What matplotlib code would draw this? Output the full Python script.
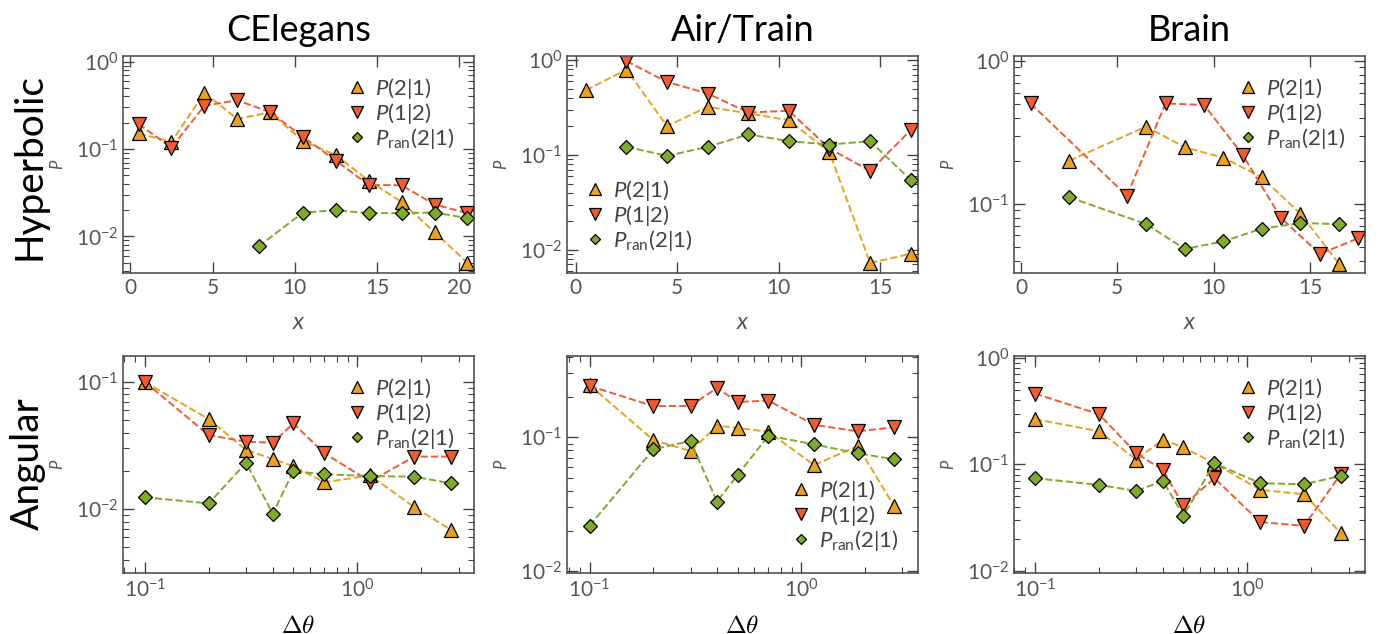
import matplotlib
matplotlib.use('Agg')
import matplotlib.pyplot as plt
from matplotlib.ticker import LogLocator, NullFormatter, FixedLocator

plt.rcParams['font.family'] = ['Lato', 'DejaVu Sans']
plt.rcParams['mathtext.fontset'] = 'custom'
plt.rcParams['mathtext.rm'] = 'Lato'
plt.rcParams['mathtext.it'] = 'Lato:italic'
plt.rcParams['mathtext.bf'] = 'Lato:bold'

COL_21 = '#e8a125'
COL_12 = '#ef5b33'
COL_RAN = '#7faa2c'
GREY = '#555555'

# ---- hyperbolic distance x ----
ce_hyp_x = [0.5, 2.5, 4.5, 6.5, 8.5, 10.5, 12.5, 14.5, 16.5, 18.5, 20.5]
ce_hyp_p21 = [0.151, 0.121, 0.44, 0.221, 0.263, 0.123, 0.0855, 0.0433, 0.0248, 0.0112, 0.0050]
ce_hyp_p12 = [0.193, 0.104, 0.312, 0.362, 0.264, 0.138, 0.0736, 0.0388, 0.0385, 0.0232, 0.0185]
ce_hyp_ran_x = [7.8, 10.5, 12.5, 14.5, 16.5, 18.5, 20.5]
ce_hyp_ran = [0.0077, 0.0188, 0.0199, 0.0185, 0.0185, 0.0188, 0.0162]

at_hyp_p21_x = [0.5, 2.5, 4.5, 6.5, 8.5, 10.5, 12.5, 14.5, 16.5]
at_hyp_p21 = [0.483, 0.798, 0.202, 0.323, 0.275, 0.233, 0.107, 0.00724, 0.00908]
at_hyp_x = [2.5, 4.5, 6.5, 8.5, 10.5, 12.5, 14.5, 16.5]
at_hyp_p12 = [0.98, 0.59, 0.446, 0.281, 0.293, 0.117, 0.0679, 0.183]
at_hyp_ran = [0.122, 0.098, 0.122, 0.165, 0.140, 0.129, 0.140, 0.0546]

br_hyp_x = [2.5, 6.5, 8.5, 10.5, 12.5, 14.5, 16.5]
br_hyp_p21 = [0.2, 0.347, 0.248, 0.21, 0.153, 0.0852, 0.0381]
br_hyp_p12_x = [0.5, 5.5, 7.5, 9.5, 11.5, 13.5, 15.5, 17.5]
br_hyp_p12 = [0.503, 0.1137, 0.503, 0.491, 0.22, 0.0794, 0.0446, 0.0573]
br_hyp_ran = [0.111, 0.0721, 0.0483, 0.0546, 0.067, 0.0733, 0.0721]

# ---- angular distance ----
dtheta = [0.1, 0.2, 0.3, 0.4, 0.5, 0.7, 1.15, 1.85, 2.75]
ce_ang_p21 = [0.1, 0.051, 0.0292, 0.0248, 0.0218, 0.0163, 0.0184, 0.0104, 0.0069]
ce_ang_p12 = [0.1, 0.0382, 0.0339, 0.0333, 0.0472, 0.0275, 0.0165, 0.0259, 0.0259]
ce_ang_ran = [0.0124, 0.0111, 0.0232, 0.0092, 0.0199, 0.0188, 0.0182, 0.018, 0.016]

at_ang_p21 = [0.245, 0.0955, 0.0791, 0.122, 0.118, 0.110, 0.0622, 0.0862, 0.0305]
at_ang_p12 = [0.242, 0.171, 0.172, 0.234, 0.184, 0.188, 0.124, 0.111, 0.119]
at_ang_ran = [0.0219, 0.0814, 0.094, 0.0332, 0.0524, 0.103, 0.0887, 0.076, 0.0686]

br_ang_p21 = [0.266, 0.205, 0.111, 0.171, 0.144, 0.102, 0.0575, 0.0523, 0.0226]
br_ang_p12 = [0.463, 0.296, 0.127, 0.0885, 0.041, 0.074, 0.0286, 0.0264, 0.0806]
br_ang_ran = [0.074, 0.064, 0.0562, 0.0698, 0.033, 0.102, 0.0664, 0.065, 0.0778]

titles = ['CElegans', 'Air/Train', 'Brain']
rows = ['Hyperbolic', 'Angular']

panels = [
    [(ce_hyp_x, ce_hyp_p21), (ce_hyp_x, ce_hyp_p12), (ce_hyp_ran_x, ce_hyp_ran)],
    [(at_hyp_p21_x, at_hyp_p21), (at_hyp_x, at_hyp_p12), (at_hyp_x, at_hyp_ran)],
    [(br_hyp_x, br_hyp_p21), (br_hyp_p12_x, br_hyp_p12), (br_hyp_x, br_hyp_ran)],
    [(dtheta, ce_ang_p21), (dtheta, ce_ang_p12), (dtheta, ce_ang_ran)],
    [(dtheta, at_ang_p21), (dtheta, at_ang_p12), (dtheta, at_ang_ran)],
    [(dtheta, br_ang_p21), (dtheta, br_ang_p12), (dtheta, br_ang_ran)],
]
xlims = [(-0.45, 20.9), (-0.43, 16.86), (-0.36, 17.85),
         (0.079, 3.54), (0.0782, 3.56), (0.0796, 3.58)]
ylims = [(0.00382, 1.16), (0.00568, 1.11), (0.0328, 1.08),
         (0.00315, 0.16), (0.00972, 0.405), (0.0095, 1.045)]
legend_locs = ['upper right', 'lower left', 'upper right',
               'upper right', 'lower right', 'upper right']

labels = [r'$P(2|1)$', r'$P(1|2)$', r'$P_{\rm ran}(2|1)$']
styles = [dict(marker='^', color=COL_21, ms=10),
          dict(marker='v', color=COL_12, ms=10),
          dict(marker='D', color=COL_RAN, ms=7)]

fig = plt.figure(figsize=(13.79, 6.34), dpi=100)
lefts = [123, 567, 1014]
tops = [56, 356]
W, H = 351, 217

for i in range(6):
    r, c = divmod(i, 3)
    ax = fig.add_axes([lefts[c] / 1379, 1 - (tops[r] + H) / 634, W / 1379, H / 634])
    for (xs, ys), st, lab in zip(panels[i], styles, labels):
        ax.plot(xs, ys, linestyle='--', lw=1.4, color=st['color'], marker=st['marker'],
                ms=st['ms'], mfc=st['color'], mec='black', mew=0.9, label=lab)
    ax.set_yscale('log')
    if r == 1:
        ax.set_xscale('log')
        ax.xaxis.set_minor_formatter(NullFormatter())
    else:
        ax.xaxis.set_major_locator(FixedLocator([0, 5, 10, 15, 20]))
    ax.yaxis.set_major_locator(LogLocator(base=10, numticks=10))
    ax.yaxis.set_minor_locator(LogLocator(base=10, subs=range(2, 10), numticks=20))
    ax.yaxis.set_minor_formatter(NullFormatter())
    ax.set_xlim(xlims[i])
    ax.set_ylim(ylims[i])
    ax.tick_params(which='both', direction='in', top=True, right=True,
                   colors='#444444', labelcolor=GREY, labelsize=15)
    ax.tick_params(which='major', length=8, width=1)
    ax.tick_params(which='minor', length=4, width=0.8)
    for sp in ax.spines.values():
        sp.set_color('#444444')
        sp.set_linewidth(1.1)
    ax.set_ylabel(r'$P$', fontsize=12, color=GREY, labelpad=7)
    if r == 0:
        ax.set_xlabel(r'$x$', fontsize=17, color=GREY, labelpad=10)
        ax.set_title(titles[c], fontsize=26, pad=11)
    else:
        ax.set_xlabel(r'$\mathbf{\Delta}\theta$', fontsize=18, color='black',
                      labelpad=9, math_fontfamily='cm')
    leg = ax.legend(loc=legend_locs[i], frameon=False, fontsize=16, numpoints=1,
                    handlelength=0.7, handletextpad=0.45, labelspacing=0.0,
                    markerscale=0.8, borderaxespad=0.5)
    for t in leg.get_texts():
        t.set_color('#444444')
    for h in leg.legend_handles:
        h.set_linestyle('None')

fig.text(30 / 1379, 1 - 167 / 634, rows[0], rotation=90, fontsize=28,
         ha='center', va='center')
fig.text(28 / 1379, 1 - 464 / 634, rows[1], rotation=90, fontsize=28,
         ha='center', va='center')

fig.savefig('out.png', dpi=100)
